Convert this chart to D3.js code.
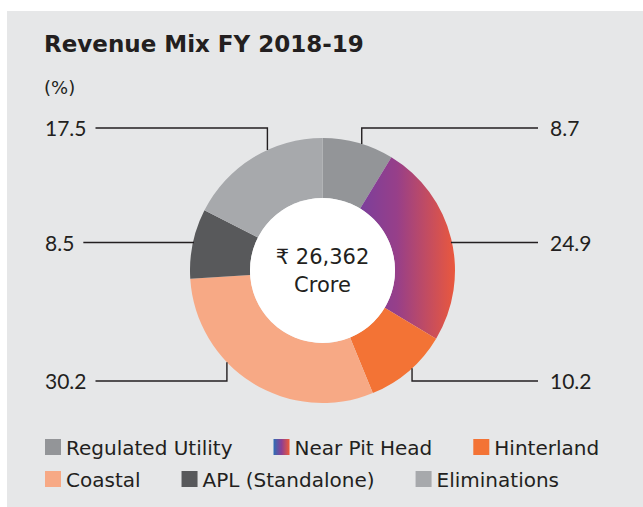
<!DOCTYPE html>
<html lang="en">
<head>
<meta charset="utf-8">
<title>Revenue Mix FY 2018-19</title>
<script src="https://d3js.org/d3.v7.min.js"></script>
<style>
  body { margin: 0; background: #ffffff; }
  svg text { font-family: "DejaVu Sans", sans-serif; fill: #231f20; }
  svg text.num { font-family: Lato, "Open Sans", sans-serif; }
</style>
</head>
<body>
<div id="chart"></div>

<script>
    // data (percent of revenue)
    var segments = ["Regulated Utility", "Near Pit Head", "Hinterland", "Coastal", "APL (Standalone)", "Eliminations"];
    var shares = [8.7, 24.9, 10.2, 30.2, 8.5, 17.5];
    var colors = ["#939598", "url(#pitGrad)", "#f37335", "#f7a985", "#58595b", "#a7a9ac"];
    var legendColors = ["#939598", "url(#legendGrad)", "#f37335", "#f7a985", "#58595b", "#a7a9ac"];
    var legendRows = [[0, 1, 2], [3, 4, 5]];
    var centerLines = ["\u20b9 26,362", "Crore"];

    // where each label sits: side, row and where along the slice the leader starts
    var labelSide = ["right", "right", "right", "left", "left", "left"];
    var labelRow = [0, 1, 2, 2, 1, 0];
    var anchorAt = [0.55, 0.52, 0.45, 0.63, 0.52, 0.61];

    var W = 643, H = 507;
    var cx = 322.5, cy = 270.5, outerR = 132.5, innerR = 72.5;
    var rowY = [128, 242.5, 381];

    var svg = d3.select("#chart").append("svg")
        .attr("width", W)
        .attr("height", H);

    var defs = svg.append("defs");
    // gradient runs across the slice, in the donut group's coordinates
    var g1 = defs.append("linearGradient").attr("id", "pitGrad")
        .attr("gradientUnits", "userSpaceOnUse")
        .attr("x1", 36).attr("x2", outerR).attr("y1", 0).attr("y2", 0);
    g1.append("stop").attr("offset", "0%").attr("stop-color", "#7a3f9c");
    g1.append("stop").attr("offset", "40%").attr("stop-color", "#973f89");
    g1.append("stop").attr("offset", "100%").attr("stop-color", "#ea583d");

    var g2 = defs.append("linearGradient").attr("id", "legendGrad");
    g2.append("stop").attr("offset", "0%").attr("stop-color", "#2c6eb6");
    g2.append("stop").attr("offset", "50%").attr("stop-color", "#8c3f94");
    g2.append("stop").attr("offset", "100%").attr("stop-color", "#ef5a37");

    // grey panel
    svg.append("rect")
        .attr("x", 7).attr("y", 11)
        .attr("width", W - 7).attr("height", H - 11)
        .attr("fill", "#e6e7e8");

    svg.append("text")
        .attr("x", 44).attr("y", 52)
        .style("font-weight", "bold")
        .style("font-size", "23px")
        .text("Revenue Mix FY 2018-19");

    svg.append("text")
        .attr("x", 44).attr("y", 94)
        .style("font-size", "18px")
        .text("(%)");

    // donut
    var pie = d3.pie().sort(null).value(function(d){ return d; });
    var arcs = pie(shares);
    var arc = d3.arc().innerRadius(innerR).outerRadius(outerR);

    var donut = svg.append("g").attr("transform", "translate(" + cx + "," + cy + ")");
    donut.selectAll("path")
        .data(arcs)
        .enter()
        .append("path")
          .attr("d", arc)
          .attr("fill", function(d, i){ return colors[i]; });

    donut.append("circle").attr("r", innerR).attr("fill", "#ffffff");

    donut.selectAll("text.center")
        .data(centerLines)
        .enter()
        .append("text")
          .attr("class", "center")
          .attr("text-anchor", "middle")
          .attr("y", function(d, i){ return -6.5 + i * 28; })
          .style("font-size", "21px")
          .text(function(d){ return d; });

    // value labels and leader lines
    arcs.forEach(function(a, i) {
        var ang = a.startAngle + (a.endAngle - a.startAngle) * anchorAt[i];
        var ax = cx + outerR * Math.sin(ang);
        var ay = cy - outerR * Math.cos(ang);
        var y = rowY[labelRow[i]];
        if (labelRow[i] == 1) {
            // middle row: line meets the ring straight on
            var dx = Math.sqrt(outerR * outerR - (y - cy) * (y - cy));
            ax = labelSide[i] == "right" ? cx + dx - 1 : cx - dx + 1;
            ay = y;
        }

        var t = svg.append("text")
            .attr("class", "num")
            .attr("y", y + 8)
            .style("font-size", "21px")
            .text(shares[i].toFixed(1));

        var endX;
        if (labelSide[i] == "right") {
            t.attr("x", 550);
            endX = 538;
        } else {
            t.attr("x", 45);
            endX = 45 + t.node().getComputedTextLength() + 9;
        }

        svg.append("polyline")
            .attr("points", [[ax, ay], [ax, y], [endX, y]].map(function(p){ return p.join(","); }).join(" "))
            .attr("fill", "none")
            .attr("stroke", "#231f20")
            .attr("stroke-width", 1.4);
    });

    // legend
    legendRows.forEach(function(row, r) {
        var x = 45;
        var y = 439 + r * 32;
        row.forEach(function(i) {
            svg.append("rect")
                .attr("x", x).attr("y", y)
                .attr("width", 16).attr("height", 16)
                .attr("fill", legendColors[i]);
            var t = svg.append("text")
                .attr("x", x + 21).attr("y", y + 16)
                .style("font-size", "20px")
                .text(segments[i]);
            x += 21 + t.node().getComputedTextLength() + 41;
        });
    });
</script>
</body>
</html>
